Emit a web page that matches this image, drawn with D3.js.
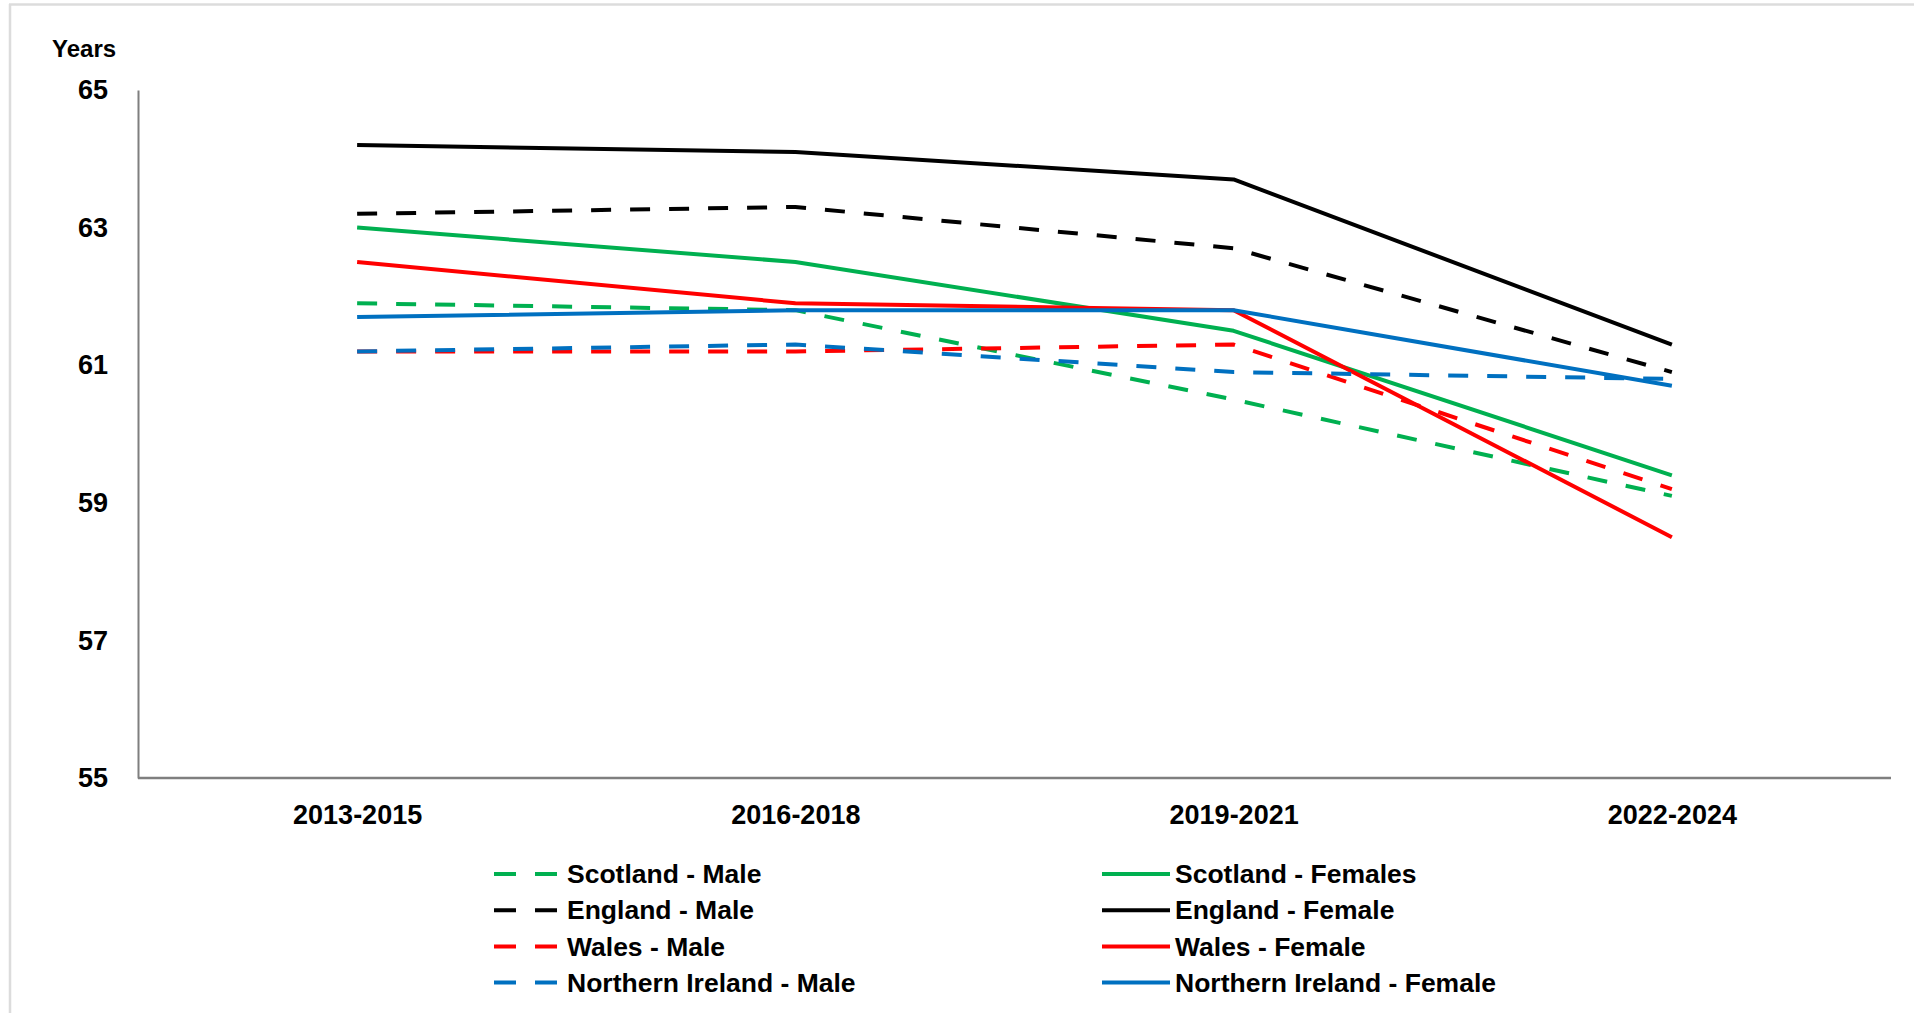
<!DOCTYPE html>
<html>
<head>
<meta charset="utf-8">
<script src="https://cdn.jsdelivr.net/npm/d3@7"></script>
<style>
  html, body { margin: 0; padding: 0; background: #fff; }
  svg { display: block; }
  text { font-family: "Liberation Sans", Arial, sans-serif; font-weight: bold; fill: #000; }
</style>
</head>
<body>
<svg id="chart" width="1914" height="1013"></svg>
<script>
// ---- Data ----
const categories = ["2013-2015", "2016-2018", "2019-2021", "2022-2024"];
const yTicks = [55, 57, 59, 61, 63, 65];
const yLabel = "Years";

const scotlandMale   = [61.9, 61.8, 60.5, 59.1];
const scotlandFemale = [63.0, 62.5, 61.5, 59.4];
const englandMale    = [63.2, 63.3, 62.7, 60.9];
const englandFemale  = [64.2, 64.1, 63.7, 61.3];
const walesMale      = [61.2, 61.2, 61.3, 59.2];
const walesFemale    = [62.5, 61.9, 61.8, 58.5];
const niMale         = [61.2, 61.3, 60.9, 60.8];
const niFemale       = [61.7, 61.8, 61.8, 60.7];

const seriesNames = [
  "Scotland - Male", "Scotland - Females",
  "England - Male", "England - Female",
  "Wales - Male", "Wales - Female",
  "Northern Ireland - Male", "Northern Ireland - Female"
];
const seriesValues = [scotlandMale, scotlandFemale, englandMale, englandFemale,
                      walesMale, walesFemale, niMale, niFemale];

// ---- Styles ----
const colorOf = {
  "Scotland": "#00B050",
  "England": "#000000",
  "Wales": "#FF0000",
  "Northern Ireland": "#0070C0"
};
const series = seriesNames.map((name, i) => {
  const country = name.split(" - ")[0];
  return { name, values: seriesValues[i], color: colorOf[country], dashed: / - Male$/.test(name) };
});

(function () {
const svg = d3.select("#chart");

// frame border (light grey, top and left)
svg.append("line").attr("x1", 9).attr("x2", 1914).attr("y1", 4.5).attr("y2", 4.5)
  .attr("stroke", "#dcdcdc").attr("stroke-width", 2.5);
svg.append("line").attr("x1", 10).attr("x2", 10).attr("y1", 4).attr("y2", 1013)
  .attr("stroke", "#dcdcdc").attr("stroke-width", 2.5);

const mLeft = 138, mRight = 1891, mTop = 90, mBottom = 778;

const x = d3.scalePoint().domain(categories).range([mLeft, mRight]).padding(0.5);
const y = d3.scaleLinear().domain([55, 65]).range([mBottom, mTop]);

// y axis
const yAxis = svg.append("g").attr("transform", `translate(${mLeft},0)`)
  .call(d3.axisLeft(y).tickValues(yTicks).tickSize(0).tickSizeOuter(0).tickPadding(30).tickFormat(d3.format("d")));
yAxis.select(".domain").attr("stroke", "#7f7f7f").attr("stroke-width", 2);
yAxis.selectAll("text").attr("font-size", 27).attr("fill", "#000")
  .attr("font-family", '"Liberation Sans", Arial, sans-serif').attr("font-weight", "bold");

// x axis
const xAxis = svg.append("g").attr("transform", `translate(0,${mBottom})`)
  .call(d3.axisBottom(x).tickSize(0).tickSizeOuter(0).tickPadding(27));
xAxis.select(".domain").attr("stroke", "#7f7f7f").attr("stroke-width", 2.5)
  .attr("d", `M${mLeft},0H${mRight}`);
xAxis.selectAll("text").attr("font-size", 27).attr("fill", "#000")
  .attr("font-family", '"Liberation Sans", Arial, sans-serif').attr("font-weight", "bold");

// axis title
svg.append("text").attr("x", 52).attr("y", 49).attr("dy", "0.35em")
  .attr("font-size", 24).text(yLabel);

// lines
const line = d3.line().x((d, i) => x(categories[i])).y(d => y(d));
svg.append("g").selectAll("path").data(series).join("path")
  .attr("d", d => line(d.values))
  .attr("fill", "none")
  .attr("stroke", d => d.color)
  .attr("stroke-width", 4)
  .attr("stroke-linejoin", "round")
  .attr("stroke-dasharray", d => d.dashed ? "20,19" : null);

// legend
const legend = svg.append("g");
series.forEach((s, i) => {
  const col = i % 2, row = Math.floor(i / 2);
  const ly = 874 + row * 36.2;
  const sx0 = col === 0 ? 494 : 1102;
  const sx1 = col === 0 ? 557 : 1170;
  const tx = col === 0 ? 567 : 1175;
  legend.append("line").attr("x1", sx0).attr("x2", sx1).attr("y1", ly).attr("y2", ly)
    .attr("stroke", s.color).attr("stroke-width", 4)
    .attr("stroke-dasharray", s.dashed ? "22,19" : null);
  legend.append("text").attr("x", tx).attr("y", ly).attr("dy", "0.35em")
    .attr("font-size", 26.5).text(s.name);
});
})();
</script>
</body>
</html>
